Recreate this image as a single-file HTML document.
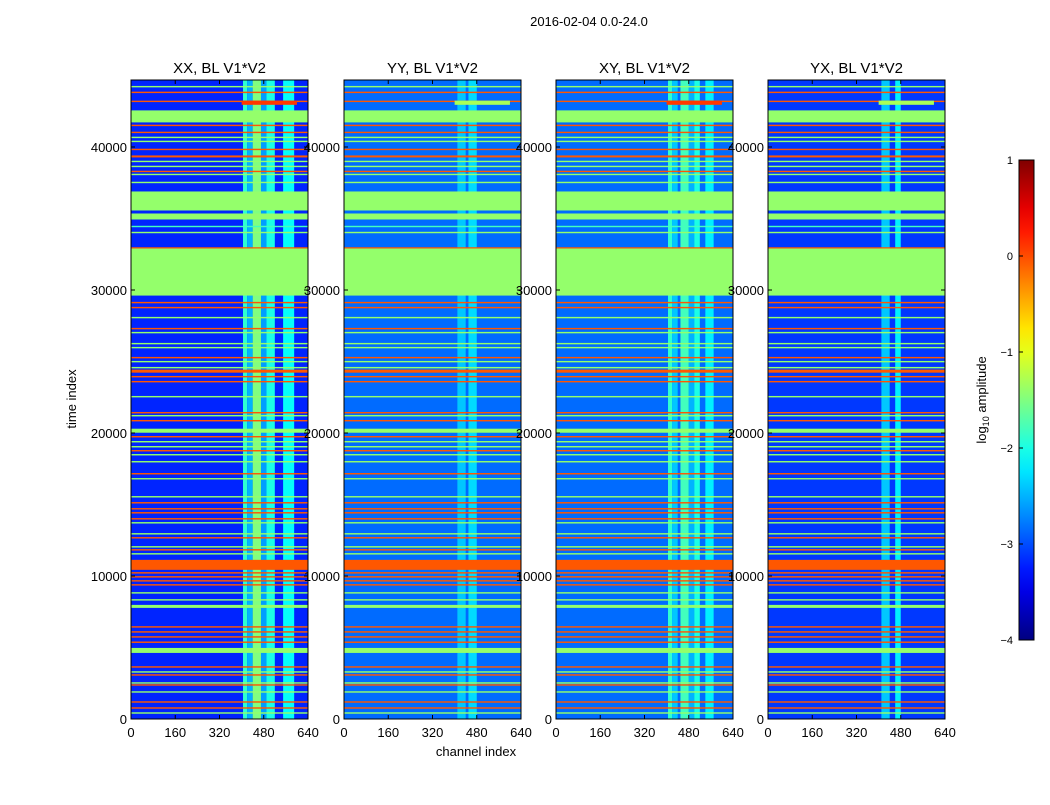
<!DOCTYPE html>
<html><head><meta charset="utf-8"><style>
body{margin:0;background:#fff;}
svg text{font-family:"Liberation Sans",sans-serif;}
</style></head><body>
<svg id="fig" width="1050" height="800" xmlns="http://www.w3.org/2000/svg"></svg>
<script>
// ---- data ----
const panelTitles = ["XX, BL V1*V2","YY, BL V1*V2","XY, BL V1*V2","YX, BL V1*V2"];
const panelBackground = [-3.2, -2.85, -2.85, -3.1];
// channel columns per panel: start, end, value
const colStart = [[405,420,440,470,490,550],[410,450],[405,420,450,480,500,540],[410,460]];
const colEnd   = [[420,440,470,490,520,590],[440,480],[420,440,480,500,520,570],[440,480]];
const colValue = [[-1.9,-2.5,-1.5,-2.6,-2.0,-2.1],[-2.4,-2.3],[-1.9,-2.4,-1.8,-2.5,-2.0,-2.2],[-2.4,-2.2]];
// time bands (rows) common to all baselines
const bandStart = [44170,43770,43140,41720,41460,40970,40620,40340,39780,39270,38940,38590,38240,38030,37470,35560,34930,34390,33970,32900,29610,29070,28720,28020,27250,26970,26200,25920,25220,24940,24520,24220,23890,23540,22490,21370,21160,20810,20020,19690,19340,18990,18710,18430,17940,17100,16750,15490,15070,14650,14370,13950,13670,12900,12620,11990,11780,11500,10430,10170,9890,9610,9330,8770,8280,7770,6390,6040,5690,5320,4620,3590,3240,3030,2470,2330,1840,1140,720,370];
const bandEnd   = [44270,43870,43240,42560,41560,41070,40720,40440,39880,39410,39040,38690,38340,38130,37570,36890,35350,34490,34070,32990,32900,29170,28820,28120,27350,27070,26300,26020,25320,25040,24620,24430,23990,23640,22590,21470,21260,20910,20300,19790,19440,19090,18810,18530,18040,17200,16850,15590,15170,14750,14470,14050,13770,13000,12720,12090,11880,11600,11130,10270,9990,9710,9430,8870,8380,7980,6490,6140,5790,5420,4970,3690,3340,3130,2570,2430,1940,1240,820,470];
const bandValue = [-1.4,-0.05,-0.05,-1.4,-0.05,-0.05,-1.4,-1.4,-0.05,-0.05,-1.4,-1.4,-0.05,-1.4,-1.4,-1.4,-1.4,-1.8,-1.4,-0.05,-1.4,-0.05,-0.05,-1.4,-0.05,-1.4,-1.4,-1.4,-0.05,-1.4,-1.4,-0.05,-0.05,-0.05,-1.4,-0.05,-1.4,-0.05,-1.4,-0.05,-1.4,-1.4,-0.05,-1.4,-1.4,-0.05,-1.4,-1.4,-0.05,-0.05,-0.05,-0.05,-1.4,-1.4,-0.05,-1.4,-0.05,-1.4,-0.05,-0.05,-0.05,-0.05,-0.05,-1.4,-1.4,-1.4,-0.05,-0.05,-0.05,-0.05,-1.4,-0.05,-1.4,-0.05,-1.4,-0.05,-1.4,-0.05,-0.05,-1.4];
// partial hot block near top (channels 400-600)
const hotStart = [42950], hotEnd = [43240], hotValue = [0.1];
const xTicks = [0,160,320,480,640];
const yTicks = [0,10000,20000,30000,40000];
const cbTicks = [1,0,-1,-2,-3,-4];
const cbLabels = ["1","0","\u22121","\u22122","\u22123","\u22124"];

// ---- layout ----
const panelX = [131,344,556,768], PW = 177, PTOP = 80, PBOT = 719;
const TMAX = (PBOT-PTOP)/0.0143;
const NS = "http://www.w3.org/2000/svg";
const svg = document.getElementById("fig");
function el(tag, attrs, parent){const e=document.createElementNS(NS,tag);for(const k in attrs)e.setAttribute(k,attrs[k]);(parent||svg).appendChild(e);return e;}
function jet(v){let t=(v+4)/5;t=Math.max(0,Math.min(1,t));const c=x=>Math.round(255*Math.max(0,Math.min(1,x)));
 return `rgb(${c(1.5-Math.abs(4*t-3))},${c(1.5-Math.abs(4*t-2))},${c(1.5-Math.abs(4*t-1))})`;}
const xs = (p,ch)=>panelX[p]+ch/640*PW;
const ys = t=>PBOT-t*0.0143;

let tt=el("text",{x:589,y:26,"font-size":13,"text-anchor":"middle"});tt.textContent="2016-02-04 0.0-24.0";



const defs=el("defs",{});
const cp=el("clipPath",{id:"cp"},defs);
el("rect",{x:0,y:PTOP,width:1050,height:PBOT-PTOP},cp);

for(let p=0;p<4;p++){
 const g=el("g",{"clip-path":"url(#cp)"});
 
 
 el("rect",{x:panelX[p],y:PTOP,width:PW,height:PBOT-PTOP,fill:jet(panelBackground[p])},g);
 for(let i=0;i<colStart[p].length;i++){
  const r=el("rect",{x:xs(p,colStart[p][i]),y:ys(TMAX),width:xs(p,colEnd[p][i])-xs(p,colStart[p][i]),height:ys(0)-ys(TMAX),fill:jet(colValue[p][i])},g);
  
  
 }
 for(let i=0;i<bandStart.length;i++){
  const r=el("rect",{x:panelX[p],y:ys(bandEnd[i]),width:PW,height:Math.max(1,ys(bandStart[i])-ys(bandEnd[i])),fill:jet(bandValue[i])},g);
  
  
 }
 for(let i=0;i<hotStart.length;i++){
  const r=el("rect",{x:xs(p,400),y:ys(hotEnd[i]),width:xs(p,600)-xs(p,400),height:ys(hotStart[i])-ys(hotEnd[i]),fill:jet(p==0||p==2?hotValue[i]:-1.3)},g);
  
  
 }
 el("rect",{x:panelX[p],y:PTOP,width:PW,height:PBOT-PTOP,fill:"none",stroke:"#000","stroke-width":1});
 const t=el("text",{x:panelX[p]+PW/2,y:73,"font-size":15,"text-anchor":"middle"});t.textContent=panelTitles[p];
 
 
 for(const v of xTicks){
  const x=xs(p,v);
  el("line",{x1:x,x2:x,y1:PBOT,y2:PBOT-4,stroke:"#000"});
  el("line",{x1:x,x2:x,y1:PTOP,y2:PTOP+4,stroke:"#000"});
  const l=el("text",{x:x,y:737,"font-size":13,"text-anchor":"middle"});l.textContent=v;
  
  
 }
 for(const v of yTicks){
  const y=ys(v);
  el("line",{x1:panelX[p],x2:panelX[p]+4,y1:y,y2:y,stroke:"#000"});
  el("line",{x1:panelX[p]+PW,x2:panelX[p]+PW-4,y1:y,y2:y,stroke:"#000"});
  const l=el("text",{x:panelX[p]-4,y:y+5,"font-size":13,"text-anchor":"end"});l.textContent=v;
  
  
 }
}
let yl=el("text",{x:0,y:0,"font-size":13,"text-anchor":"middle",transform:"translate(76,399) rotate(-90)"});yl.textContent="time index";


let xl=el("text",{x:476,y:756,"font-size":13,"text-anchor":"middle"});xl.textContent="channel index";



// colorbar
const cbX=1019,cbW=15,cbTop=160,cbBot=640;
const grad=el("linearGradient",{id:"jetg",x1:0,y1:1,x2:0,y2:0},defs);
for(let i=0;i<=20;i++){el("stop",{offset:i/20,"stop-color":jet(-4+5*i/20)},grad);}
const cb=el("rect",{x:cbX,y:cbTop,width:cbW,height:cbBot-cbTop,fill:"url(#jetg)",stroke:"#000"});


const cbY=v=>cbBot-(v+4)/5*(cbBot-cbTop);
cbTicks.forEach((v,i)=>{
 el("line",{x1:cbX,x2:cbX+4,y1:cbY(v),y2:cbY(v),stroke:"#000"});
 const l=el("text",{x:cbX-6,y:cbY(v)+4,"font-size":11,"text-anchor":"end"});l.textContent=cbLabels[i];
 
 
});
let cl=el("text",{x:0,y:0,"font-size":13,"text-anchor":"middle",transform:"translate(986,400) rotate(-90)"});
cl.innerHTML='log<tspan font-size="9" dy="3">10</tspan><tspan dy="-3"> amplitude</tspan>';


</script>
</body></html>
